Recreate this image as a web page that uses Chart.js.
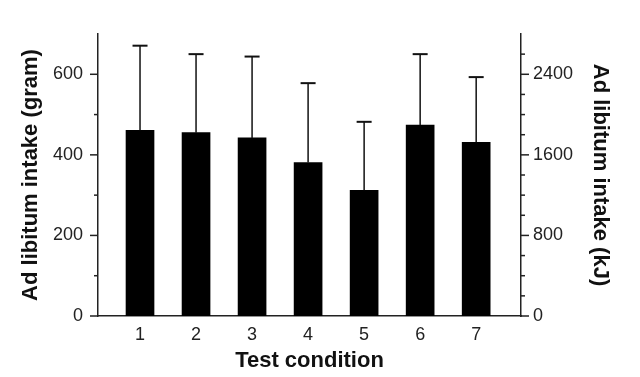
<!DOCTYPE html>
<html lang="en">
  <head>
    <meta charset="UTF-8" />
    <title>Ad libitum intake by test condition</title>
  </head>
  <style>
    * {
      margin: 0;
      padding: 0;
    }
    body {
      background: white;
    }
    .chartBox {
      width: 640px;
      height: 377px;
    }
  </style>
  <body>
    <div class="chartBox">
      <canvas id="myChart" width="640" height="377"></canvas>
    </div>

    <script src="https://cdn.jsdelivr.net/npm/chart.js"></script>

    <script>
      // data block
      const conditions = [1, 2, 3, 4, 5, 6, 7];
      const intakeGram = [461, 455, 442, 381, 312, 474, 431];
      const sdGram = [210, 195, 202, 197, 170, 176, 162];
      const gramTicks = [0, 200, 400, 600];
      const kjTicks = [0, 800, 1600, 2400];

      const axisColor = "#222";
      const labelFont = { family: "'Liberation Sans', Arial, sans-serif", size: 18 };
      const titleFont = { family: "'Liberation Sans', Arial, sans-serif", size: 22, weight: "bold" };

      // error bars (upper only) + small tick marks on both y axes
      const extras = {
        id: "extras",
        afterDatasetsDraw(chart) {
          const { ctx, scales } = chart;
          const x = scales.x, y = scales.y;
          ctx.save();
          ctx.strokeStyle = "#111";
          conditions.forEach((c, i) => {
            const px = x.getPixelForValue(c);
            const yBar = y.getPixelForValue(intakeGram[i]);
            const yTop = y.getPixelForValue(intakeGram[i] + sdGram[i]);
            ctx.lineWidth = 1.5;
            ctx.beginPath();
            ctx.moveTo(px, yBar);
            ctx.lineTo(px, yTop);
            ctx.stroke();
            ctx.lineWidth = 2;
            ctx.beginPath();
            ctx.moveTo(px - 7.5, yTop);
            ctx.lineTo(px + 7.5, yTop);
            ctx.stroke();
          });
          ctx.restore();
        },
        afterDraw(chart) {
          const { ctx, scales, chartArea } = chart;
          ctx.save();
          ctx.strokeStyle = axisColor;
          ctx.lineWidth = 1.5;
          for (let v = 0; v < 700; v += 100) {
            const py = scales.y.getPixelForValue(v);
            const len = v % 200 === 0 ? 8 : 4;
            ctx.beginPath();
            ctx.moveTo(chartArea.left - len, py);
            ctx.lineTo(chartArea.left, py);
            ctx.stroke();
          }
          for (let v = 0; v < 2800; v += 200) {
            const py = scales.y2.getPixelForValue(v);
            const len = v % 800 === 0 ? 8 : 4;
            ctx.beginPath();
            ctx.moveTo(chartArea.right, py);
            ctx.lineTo(chartArea.right + len, py);
            ctx.stroke();
          }
          ctx.restore();
        }
      };

      const data = {
        datasets: [
          {
            label: "Intake",
            data: conditions.map((c, i) => ({ x: c, y: intakeGram[i] })),
            backgroundColor: "#000",
            borderWidth: 0,
            barThickness: 28,
            yAxisID: "y"
          }
        ]
      };

      // config block
      const config = {
        type: "bar",
        data,
        options: {
          responsive: false,
          animation: false,
          layout: { padding: { top: 34, left: 0, right: 0, bottom: 0 } },
          plugins: {
            legend: { display: false },
            tooltip: { enabled: false }
          },
          scales: {
            x: {
              type: "linear",
              offset: false,
              min: 0.25,
              max: 7.8,
              afterBuildTicks: (s) => {
                s.ticks = conditions.map((v) => ({ value: v }));
              },
              afterFit: (s) => {
                s.height = 61;
              },
              grid: { display: false, drawTicks: false },
              border: { color: axisColor, width: 1.5 },
              ticks: { color: "#222", font: labelFont, padding: 8 },
              title: {
                display: true,
                text: "Test condition",
                color: "#111",
                font: titleFont,
                padding: { top: 0, bottom: 3 }
              }
            },
            y: {
              position: "left",
              min: 0,
              max: 700,
              afterBuildTicks: (s) => {
                s.ticks = gramTicks.map((v) => ({ value: v }));
              },
              afterFit: (s) => {
                s.width = 98;
              },
              grid: { display: false, drawTicks: false },
              border: { color: axisColor, width: 1.5 },
              ticks: { color: "#222", font: labelFont, padding: 15, callback: (v) => String(v) },
              title: {
                display: true,
                text: "Ad libitum intake (gram)",
                color: "#111",
                font: titleFont,
                padding: { top: 18, bottom: 0 }
              }
            },
            y2: {
              position: "right",
              min: 0,
              max: 2800,
              afterBuildTicks: (s) => {
                s.ticks = kjTicks.map((v) => ({ value: v }));
              },
              afterFit: (s) => {
                s.width = 119;
              },
              grid: { display: false, drawTicks: false },
              border: { color: axisColor, width: 1.5 },
              ticks: { color: "#222", font: labelFont, padding: 12, callback: (v) => String(v) },
              title: {
                display: true,
                text: "Ad libitum intake (kJ)",
                color: "#111",
                font: titleFont,
                padding: { top: 27, bottom: 0 }
              }
            }
          }
        },
        plugins: [extras]
      };

      // init render block
      const ctx = document.getElementById("myChart");
      const myChart = new Chart(ctx, config);
    </script>
  </body>
</html>
